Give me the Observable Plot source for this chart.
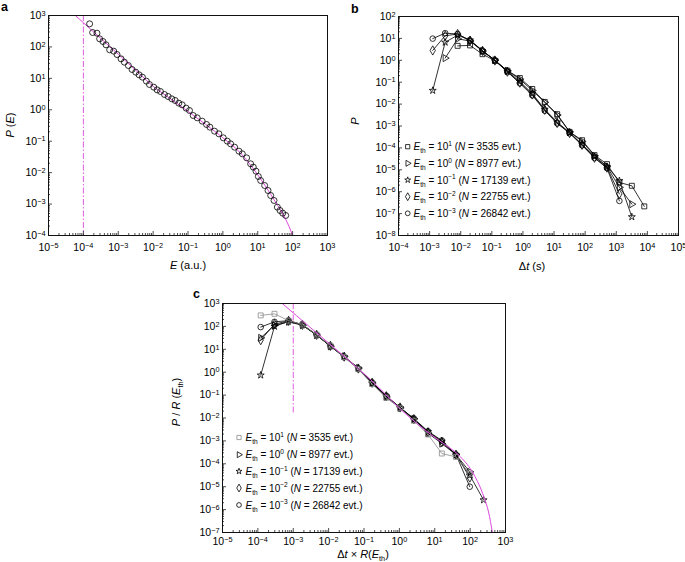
<!DOCTYPE html>
<html><head><meta charset="utf-8">
<script src="https://cdn.jsdelivr.net/npm/d3@7"></script>
<script src="https://cdn.jsdelivr.net/npm/@observablehq/plot@0.6"></script>
<style>
body{margin:0;background:#fff;}
#fig{position:relative;width:685px;height:562px;overflow:hidden;background:#fff;}
#fig svg{position:absolute;overflow:visible;}
</style></head><body><div id="fig"></div>
<script>
// Panel a: energy distribution
const aLogE = [-3.821,-3.735,-3.610,-3.534,-3.438,-3.351,-3.246,-3.131,-3.035,-2.920,-2.825,-2.710,-2.604,-2.499,-2.403,-2.307,-2.193,-2.106,-1.982,-1.886,-1.790,-1.675,-1.570,-1.465,-1.369,-1.264,-1.168,-1.053,-0.957,-0.851,-0.736,-0.593,-0.468,-0.373,-0.239,-0.114,0.011,0.126,0.221,0.336,0.461,0.557,0.681,0.796,0.873,0.949,1.017,1.083,1.198,1.294,1.371,1.467,1.562,1.639,1.716,1.802];
const aLogP = [2.735,2.459,2.438,2.258,2.173,2.067,1.908,1.865,1.759,1.621,1.515,1.409,1.282,1.197,1.112,1.038,0.911,0.805,0.720,0.635,0.582,0.486,0.423,0.349,0.296,0.211,0.158,0.052,-0.023,-0.182,-0.256,-0.362,-0.468,-0.553,-0.680,-0.765,-0.892,-0.998,-1.083,-1.189,-1.317,-1.401,-1.529,-1.719,-1.825,-1.953,-2.122,-2.250,-2.409,-2.568,-2.727,-2.886,-3.098,-3.204,-3.289,-3.363];
const aFitLogE = [-4.23,-4.0,-3.5,-3.0,-2.5,-2.0,-1.5,-1.0,-0.5,0.0,0.5,1.0,1.5,1.8,1.9,2.0];
const aFitLogP = [3.0,2.77,2.27,1.77,1.26,0.75,0.35,-0.05,-0.46,-0.89,-1.37,-2.07,-2.92,-3.48,-3.72,-4.0];
const aThresholdE = [1e-4];

// Panel b: waiting-time distributions for five thresholds
const seriesExp = ["1","0","−1","−2","−3"];
const seriesN = ["3535","8977","17139","22755","26842"];
const bLogDt = [-2.9,-2.5,-2.1,-1.7,-1.3,-0.9,-0.5,-0.1,0.3,0.7,1.1,1.5,1.9,2.3,2.7,3.1,3.5,3.9];
const bLogP_E1   = [null,null,0.66,0.68,0.28,-0.02,-0.47,-0.81,-1.31,-1.90,-2.46,-3.27,-3.65,-4.33,-4.74,-5.58,-5.73,-6.67];
const bLogP_E0   = [null,0.10,0.98,0.88,0.42,0.00,-0.48,-0.86,-1.38,-1.92,-2.50,-3.27,-3.70,-4.36,-4.85,-5.80,-6.57,null];
const bLogP_Em1  = [-1.38,0.82,1.15,0.92,0.44,0.00,-0.50,-0.97,-1.52,-2.24,-2.82,-3.30,-3.83,-4.40,-4.85,-5.50,-7.15,null];
const bLogP_Em2  = [0.45,1.12,1.20,0.90,0.43,-0.01,-0.52,-1.02,-1.56,-2.26,-2.86,-3.32,-3.86,-4.45,-4.90,-6.10,null,null];
const bLogP_Em3  = [0.99,1.24,1.20,0.90,0.44,-0.01,-0.53,-1.05,-1.60,-2.30,-2.88,-3.33,-3.88,-4.46,-4.92,-6.42,null,null];

// Panel c: rescaled distributions
const cLogX = [-3.92,-3.53,-3.13,-2.74,-2.34,-1.95,-1.56,-1.16,-0.77,-0.37,0.02,0.41,0.81,1.20,1.60,1.99,2.38];
const cLogY_E1  = [2.48,2.55,2.25,2.08,1.64,1.16,0.66,0.13,-0.52,-1.12,-1.57,-2.12,-2.72,-3.55,-3.70,-4.45,null];
const cLogY_E0  = [1.50,2.05,2.20,2.05,1.62,1.13,0.69,0.18,-0.47,-1.08,-1.56,-2.04,-2.66,-3.12,-3.60,-4.35,null];
const cLogY_Em1 = [-0.13,2.00,2.22,2.06,1.62,1.14,0.67,0.17,-0.48,-1.05,-1.55,-2.07,-2.60,-3.02,-3.62,-4.50,-5.58];
const cLogY_Em2 = [1.40,2.10,2.24,2.07,1.63,1.15,0.68,0.16,-0.46,-1.05,-1.54,-2.05,-2.62,-3.05,-3.60,-4.60,null];
const cLogY_Em3 = [1.97,2.20,2.25,2.08,1.63,1.13,0.66,0.15,-0.45,-1.03,-1.55,-2.02,-2.58,-2.98,-3.60,-5.00,null];
const cFitLogX = [-3.31,-2.5,-1.8,-1.12,-0.81,-0.4,0.037,0.45,0.886,1.3,1.73,2.1,2.39,2.52,2.63];
const cFitLogY = [3.0,1.93,1.01,0.10,-0.33,-0.95,-1.62,-2.18,-2.72,-3.17,-3.70,-4.45,-5.45,-6.10,-7.0];
const cGuideX = [1e-3], cGuideTop = [1e3], cGuideBottom = [10 ** -1.78];

// tick exponents
const aXExp = [-5,3], aYExp = [-4,3];
const bXExp = [-4,5], bYExp = [-8,2];
const cXExp = [-5,3], cYExp = [-7,3];

// ---------------- helpers ----------------
const FONT = '"Liberation Sans", Arial, Helvetica, sans-serif';
const MAGENTA = "#dc48dc";
const pts = (lx, ly) => lx.map((v, i) => ly[i] == null ? null : {x: 10 ** v, y: 10 ** ly[i]}).filter(d => d);
const decades = ([lo, hi]) => d3.range(lo, hi + 1).map(k => 10 ** k);
const minors = ([lo, hi]) => d3.range(lo, hi).flatMap(k => d3.range(2, 10).map(m => m * 10 ** k));
const fmt = d => "10^" + Math.round(Math.log10(d));
const styles = [
  {symbol: "square", rotate: 0, r: 2.8}, {symbol: "triangle", rotate: 90, r: 2.6}, {symbol: "star", rotate: 0, r: 2.2},
  {symbol: "diamond", rotate: 0, r: 2.8}, {symbol: "circle", rotate: 0, r: 2.8}
];

function axes(xe, ye, padX) {
  return [
    Plot.axisX({ticks: minors(xe), tickSize: -2, tickFormat: () => "", label: null, strokeWidth: 0.7}),
    Plot.axisX({ticks: decades(xe), tickSize: -4, tickFormat: () => "", label: null, strokeWidth: 0.7}),
    Plot.axisX({ticks: decades(xe), tickSize: 0, tickPadding: padX, tickFormat: fmt, label: null}),
    Plot.axisY({ticks: minors(ye), tickSize: -2, tickFormat: () => "", label: null, strokeWidth: 0.7}),
    Plot.axisY({ticks: decades(ye), tickSize: -4, tickFormat: () => "", label: null, strokeWidth: 0.7}),
    Plot.axisY({ticks: decades(ye), tickSize: 0, tickPadding: 3, tickFormat: fmt, label: null}),
    Plot.frame({stroke: "#111", strokeWidth: 1})
  ];
}

function superscripts(svg) {
  d3.select(svg).selectAll("text").each(function () {
    const m = /^10\^(-?\d+)$/.exec(this.textContent);
    if (!m) return;
    const s = d3.select(this);
    s.text("10");
    s.append("tspan").attr("dy", "-0.42em").attr("font-size", "70%").text(m[1].replace("-", "−"));
  });
}

function place(svg, left, top) {
  svg.style.left = left + "px";
  svg.style.top = top + "px";
  superscripts(svg);
  document.getElementById("fig").appendChild(svg);
}

const base = (w, h, m) => ({
  width: w, height: h, marginLeft: m[0], marginRight: m[1], marginTop: m[2], marginBottom: m[3],
  style: {fontFamily: FONT, fontSize: "10.5px", color: "#000", background: "transparent", overflow: "visible"}
});

function seriesMarks(sets, grayFirst) {
  const marks = [];
  [4, 3, 2, 1, 0].forEach(i => {
    const col = grayFirst && i === 0 ? "#8a8a8a" : "#000";
    marks.push(Plot.line(sets[i], {x: "x", y: "y", stroke: col, strokeWidth: 0.8}));
    marks.push(Plot.dot(sets[i], {x: "x", y: "y", symbol: styles[i].symbol, rotate: styles[i].rotate,
      r: styles[i].r, stroke: col, strokeWidth: 0.8, fill: "none"}));
  });
  return marks;
}

// ---------------- panel a ----------------
const aData = pts(aLogE, aLogP);
const aFit = pts(aFitLogE, aFitLogP);
const svgA = Plot.plot({
  ...base(340, 280, [48, 13, 15, 45]),
  x: {type: "log", domain: [10 ** aXExp[0], 10 ** aXExp[1]]},
  y: {type: "log", domain: [10 ** aYExp[0], 10 ** aYExp[1]]},
  marks: [
    Plot.ruleX(aThresholdE, {stroke: MAGENTA, strokeWidth: 0.9, strokeDasharray: "6,2,1.5,2"}),
    Plot.line(aFit, {x: "x", y: "y", stroke: MAGENTA, strokeWidth: 1, curve: "monotone-x", clip: true}),
    Plot.dot(aData, {x: "x", y: "y", r: 3, stroke: "#000", strokeWidth: 0.8, fill: "none"}),
    ...axes(aXExp, aYExp, 8)
  ]
});
place(svgA, 0, 0);

// ---------------- panel b ----------------
const bSets = [bLogP_E1, bLogP_E0, bLogP_Em1, bLogP_Em2, bLogP_Em3].map(v => pts(bLogDt, v));
const svgB = Plot.plot({
  ...base(345, 280, [58, 7, 16, 45]),
  x: {type: "log", domain: [10 ** bXExp[0], 10 ** bXExp[1]]},
  y: {type: "log", domain: [10 ** bYExp[0], 10 ** bYExp[1]]},
  marks: [...seriesMarks(bSets, false), ...axes(bXExp, bYExp, 8)]
});
place(svgB, 340, 0);

// ---------------- panel c ----------------
const cSets = [cLogY_E1, cLogY_E0, cLogY_Em1, cLogY_Em2, cLogY_Em3].map(v => pts(cLogX, v));
const cFit = pts(cFitLogX, cFitLogY);
const svgC = Plot.plot({
  ...base(360, 282, [62, 15, 23, 30]),
  x: {type: "log", domain: [10 ** cXExp[0], 10 ** cXExp[1]]},
  y: {type: "log", domain: [10 ** cYExp[0], 10 ** cYExp[1]]},
  marks: [
    Plot.ruleX(cGuideX, {y1: cGuideTop[0], y2: cGuideBottom[0], stroke: MAGENTA, strokeWidth: 0.9, strokeDasharray: "6,2,1.5,2"}),
    ...seriesMarks(cSets, true),
    Plot.line(cFit, {x: "x", y: "y", stroke: MAGENTA, strokeWidth: 1, curve: "monotone-x", clip: true}),
    ...axes(cXExp, cYExp, 5)
  ]
});
place(svgC, 160, 280);

// ---------------- overlay: labels, panel letters, legends ----------------
const ov = d3.select("#fig").append("svg").attr("width", 685).attr("height", 562)
  .style("left", "0px").style("top", "0px").style("pointer-events", "none");

function rich(x, y, parts, {size = 10.5, anchor = "start", rotate = 0, weight = "normal"} = {}) {
  const t = ov.append("text").attr("transform", `translate(${x},${y}) rotate(${rotate})`)
    .attr("text-anchor", anchor).attr("font-size", size).attr("font-weight", weight)
    .attr("font-family", FONT).attr("fill", "#000").style("white-space", "pre");
  let shift = 0;
  for (const [s, st] of parts) {
    const sp = t.append("tspan").text(s);
    let target = 0;
    if (st === "sub") { target = 0.3 * size; sp.attr("font-size", size * 0.66); }
    if (st === "sup") { target = -0.42 * size; sp.attr("font-size", size * 0.66); }
    if (st === "i") sp.attr("font-style", "italic");
    if (target - shift !== 0) sp.attr("dy", target - shift);
    shift = target;
  }
  return t;
}

// panel letters
rich(1, 11, [["a"]], {size: 12.5, weight: "bold"});
rich(351, 13, [["b"]], {size: 12.5, weight: "bold"});
rich(193, 298, [["c"]], {size: 12.5, weight: "bold"});

// axis titles
rich(188, 269, [["E", "i"], [" (a.u.)"]], {anchor: "middle", size: 11});
rich(14, 125, [["P", "i"], [" ("], ["E", "i"], [")"]], {anchor: "middle", rotate: -90, size: 11});
rich(532, 270, [["Δ"], ["t", "i"], [" (s)"]], {anchor: "middle", size: 11});
rich(359, 121, [["P", "i"]], {anchor: "middle", rotate: -90, size: 11});
rich(363, 558, [["Δ"], ["t", "i"], [" × "], ["R", "i"], ["("], ["E", "i"], ["th", "sub"], [")"]], {anchor: "middle", size: 11});
rich(180, 402, [["P", "i"], [" / "], ["R", "i"], [" ("], ["E", "i"], ["th", "sub"], [")"]], {anchor: "middle", rotate: -90, size: 11});

// legends
const symType = {square: d3.symbolSquare, triangle: d3.symbolTriangle, star: d3.symbolStar, diamond: d3.symbolDiamond, circle: d3.symbolCircle};
function legend(mx, tx, rows, grayFirst) {
  rows.forEach((cy, i) => {
    const col = grayFirst && i === 0 ? "#8a8a8a" : "#000";
    const r = styles[i].r * 0.85;
    ov.append("path").attr("d", d3.symbol(symType[styles[i].symbol], Math.PI * r * r)())
      .attr("transform", `translate(${mx},${cy}) rotate(${styles[i].rotate})`)
      .attr("fill", "none").attr("stroke", col).attr("stroke-width", 0.8);
    rich(tx, cy + 3.5, [["E", "i"], ["th", "sub"], [" = 10"], [seriesExp[i], "sup"], [" ("], ["N", "i"], [` = ${seriesN[i]} evt.)`]], {size: 10});
  });
}
legend(407.7, 413.5, [146.7, 163.3, 180, 196.7, 213.3], false);
legend(239, 245.5, [437.5, 454.7, 471.3, 488, 505], true);
</script>
</body></html>
